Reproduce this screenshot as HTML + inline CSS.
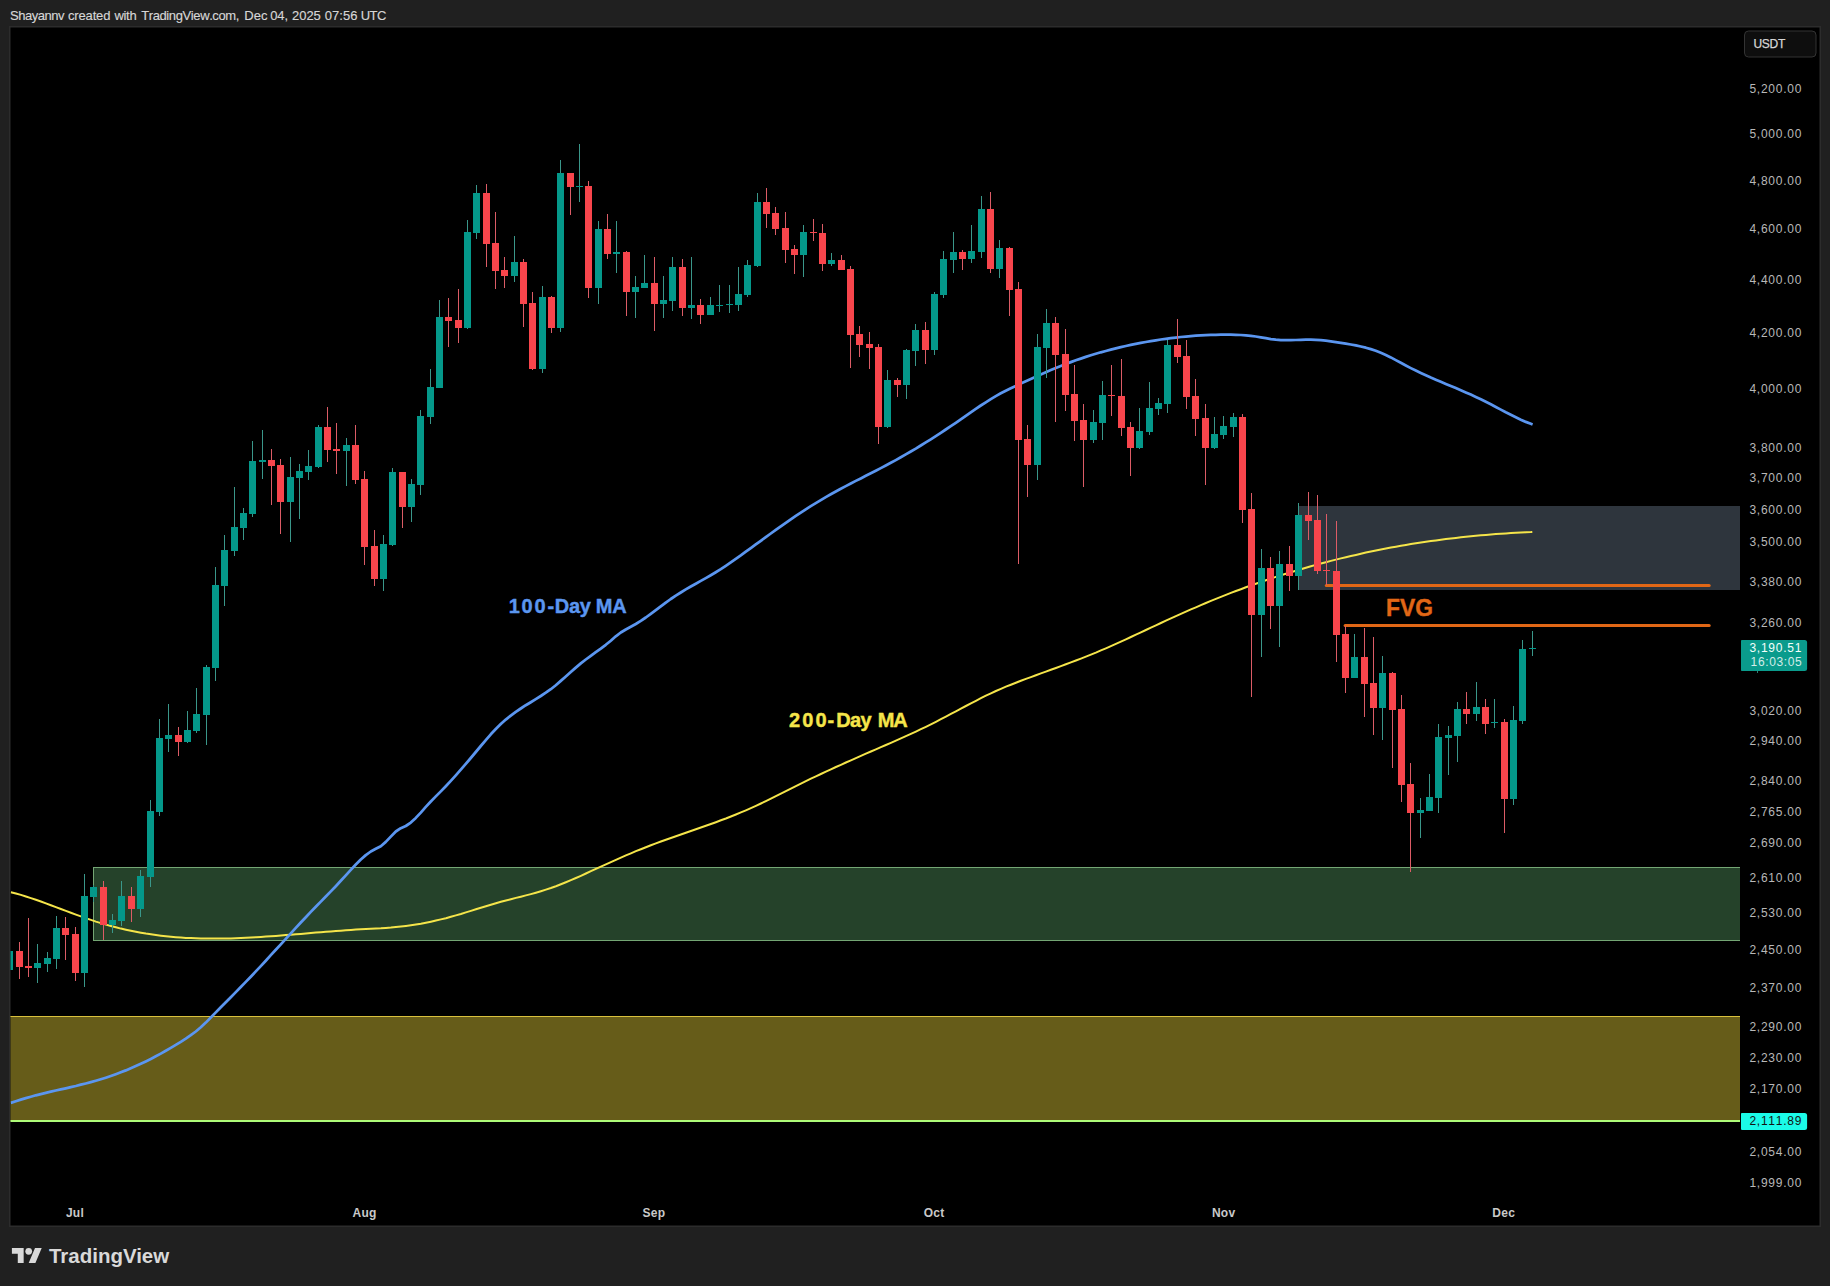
<!DOCTYPE html>
<html lang="en"><head><meta charset="utf-8"><title>TradingView chart</title>
<style>
html,body{margin:0;padding:0;background:#202020;}
body{width:1830px;height:1286px;overflow:hidden;font-family:"Liberation Sans", Arial, Helvetica, sans-serif;}
svg{display:block}
text{font-family:"Liberation Sans", Arial, Helvetica, sans-serif;font-kerning:none}
.ax{font-size:12px;fill:#b8b8b8;letter-spacing:0.75px}
.tm{font-size:12px;font-weight:700;fill:#c9c9c9;text-anchor:middle;letter-spacing:0.3px}
</style></head><body>
<svg width="1830" height="1286" viewBox="0 0 1830 1286">
<rect x="0" y="0" width="1830" height="1286" fill="#202020"/>
<text y="20" font-size="13" fill="#d6d6d6" stroke="#d6d6d6" stroke-width="0.15" xml:space="preserve"><tspan x="10" letter-spacing="-0.47">Shayannv </tspan><tspan x="68.0" letter-spacing="-0.157">created </tspan><tspan x="114.5" letter-spacing="-0.33">with </tspan><tspan x="141.2" letter-spacing="-0.39">TradingView.com, </tspan><tspan x="244.2" letter-spacing="0.1">Dec </tspan><tspan x="270.25" letter-spacing="-0.157">04, </tspan><tspan x="292.0" letter-spacing="-0.03">2025 </tspan><tspan x="324.8" letter-spacing="0.04">07:56 </tspan><tspan x="360.8" letter-spacing="-0.59">UTC</tspan></text>
<rect x="9" y="26" width="1812" height="1201" fill="#2c2c2c"/>
<rect x="10.5" y="27.5" width="1809" height="1198" fill="#000"/>
<defs><clipPath id="cp"><rect x="10.5" y="27.5" width="1729.5" height="1198"/></clipPath></defs>
<g clip-path="url(#cp)">

<g shape-rendering="crispEdges">
<rect x="1298" y="506" width="442" height="84" fill="#2e353d"/>
<rect x="93" y="867" width="1647" height="74" fill="#25422a"/>
<rect x="93.5" y="867.5" width="1650" height="73" fill="none" stroke="#74a674" stroke-width="1"/>
<rect x="10" y="1016" width="1730" height="105" fill="#665c19"/>
<rect x="10" y="1016" width="1730" height="1" fill="#d9c13c"/>
<rect x="10" y="1120" width="1730" height="2" fill="#aefb78"/>
</g>
<path d="M10.9,892.2 L15.9,893.5 L20.9,894.9 L25.9,896.5 L30.9,898.1 L35.9,899.8 L40.9,901.5 L45.9,903.4 L50.9,905.2 L55.9,907.1 L60.9,909.0 L65.9,910.9 L70.9,912.7 L75.9,914.6 L80.9,916.4 L85.9,918.2 L90.9,919.9 L95.9,921.6 L100.9,923.1 L105.9,924.6 L110.9,926.0 L115.9,927.3 L120.9,928.6 L125.9,929.7 L130.9,930.8 L135.9,931.8 L140.9,932.7 L145.9,933.6 L150.9,934.3 L155.9,935.0 L160.9,935.7 L165.9,936.3 L170.9,936.8 L175.9,937.2 L180.9,937.6 L185.9,937.9 L190.9,938.1 L195.9,938.3 L200.9,938.5 L205.9,938.6 L210.9,938.6 L215.9,938.6 L220.9,938.6 L225.9,938.5 L230.9,938.4 L235.9,938.2 L240.9,938.0 L245.9,937.8 L250.9,937.5 L255.9,937.2 L260.9,936.9 L265.9,936.6 L270.9,936.3 L275.9,935.9 L280.9,935.5 L285.9,935.1 L290.9,934.7 L295.9,934.3 L300.9,933.9 L305.9,933.5 L310.9,933.0 L315.9,932.6 L320.9,932.2 L325.9,931.8 L330.9,931.4 L335.9,931.0 L340.9,930.7 L345.9,930.3 L350.9,930.0 L355.9,929.6 L360.9,929.3 L365.9,929.1 L370.9,928.8 L375.9,928.5 L380.9,928.3 L385.9,927.9 L390.9,927.6 L395.9,927.1 L400.9,926.6 L405.9,926.0 L410.9,925.3 L415.9,924.5 L420.9,923.7 L425.9,922.7 L430.9,921.7 L435.9,920.6 L440.9,919.4 L445.9,918.2 L450.9,916.8 L455.9,915.4 L460.9,914.0 L465.9,912.4 L470.9,910.9 L475.9,909.3 L480.9,907.8 L485.9,906.2 L490.9,904.7 L495.9,903.2 L500.9,901.8 L505.9,900.5 L510.9,899.2 L515.9,897.9 L520.9,896.7 L525.9,895.4 L530.9,894.1 L535.9,892.7 L540.9,891.2 L545.9,889.6 L550.9,888.0 L555.9,886.2 L560.9,884.2 L565.9,882.2 L570.9,880.1 L575.9,878.0 L580.9,875.8 L585.9,873.5 L590.9,871.2 L595.9,868.9 L600.9,866.6 L605.9,864.3 L610.9,862.1 L615.9,859.8 L620.9,857.6 L625.9,855.4 L630.9,853.3 L635.9,851.2 L640.9,849.2 L645.9,847.2 L650.9,845.2 L655.9,843.4 L660.9,841.5 L665.9,839.7 L670.9,838.0 L675.9,836.2 L680.9,834.5 L685.9,832.7 L690.9,831.0 L695.9,829.3 L700.9,827.5 L705.9,825.8 L710.9,824.0 L715.9,822.2 L720.9,820.3 L725.9,818.5 L730.9,816.5 L735.9,814.5 L740.9,812.4 L745.9,810.3 L750.9,808.1 L755.9,805.8 L760.9,803.5 L765.9,801.1 L770.9,798.6 L775.9,796.1 L780.9,793.6 L785.9,791.1 L790.9,788.6 L795.9,786.1 L800.9,783.6 L805.9,781.2 L810.9,778.7 L815.9,776.4 L820.9,774.0 L825.9,771.7 L830.9,769.3 L835.9,767.0 L840.9,764.8 L845.9,762.5 L850.9,760.3 L855.9,758.1 L860.9,755.9 L865.9,753.7 L870.9,751.5 L875.9,749.4 L880.9,747.2 L885.9,745.0 L890.9,742.8 L895.9,740.6 L900.9,738.4 L905.9,736.2 L910.9,733.9 L915.9,731.6 L920.9,729.2 L925.9,726.8 L930.9,724.3 L935.9,721.8 L940.9,719.2 L945.9,716.6 L950.9,713.9 L955.9,711.3 L960.9,708.6 L965.9,706.0 L970.9,703.3 L975.9,700.8 L980.9,698.2 L985.9,695.7 L990.9,693.4 L995.9,691.0 L1000.9,688.8 L1005.9,686.7 L1010.9,684.7 L1015.9,682.7 L1020.9,680.8 L1025.9,678.9 L1030.9,677.1 L1035.9,675.2 L1040.9,673.4 L1045.9,671.6 L1050.9,669.8 L1055.9,668.0 L1060.9,666.1 L1065.9,664.3 L1070.9,662.4 L1075.9,660.5 L1080.9,658.6 L1085.9,656.6 L1090.9,654.6 L1095.9,652.6 L1100.9,650.4 L1105.9,648.3 L1110.9,646.1 L1115.9,643.9 L1120.9,641.6 L1125.9,639.3 L1130.9,637.0 L1135.9,634.7 L1140.9,632.3 L1145.9,630.0 L1150.9,627.6 L1155.9,625.3 L1160.9,623.0 L1165.9,620.7 L1170.9,618.4 L1175.9,616.1 L1180.9,613.9 L1185.9,611.6 L1190.9,609.4 L1195.9,607.3 L1200.9,605.1 L1205.9,603.0 L1210.9,600.9 L1215.9,598.9 L1220.9,596.9 L1225.9,594.9 L1230.9,592.9 L1235.9,591.0 L1240.9,589.2 L1245.9,587.3 L1250.9,585.5 L1255.9,583.7 L1260.9,582.0 L1265.9,580.3 L1270.9,578.6 L1275.9,576.9 L1280.9,575.3 L1285.9,573.7 L1290.9,572.2 L1295.9,570.7 L1300.9,569.2 L1305.9,567.7 L1310.9,566.3 L1315.9,564.9 L1320.9,563.5 L1325.9,562.2 L1330.9,560.9 L1335.9,559.6 L1340.9,558.4 L1345.9,557.2 L1350.9,556.0 L1355.9,554.9 L1360.9,553.7 L1365.9,552.6 L1370.9,551.6 L1375.9,550.5 L1380.9,549.5 L1385.9,548.6 L1390.9,547.6 L1395.9,546.7 L1400.9,545.8 L1405.9,545.0 L1410.9,544.1 L1415.9,543.3 L1420.9,542.5 L1425.9,541.8 L1430.9,541.1 L1435.9,540.4 L1440.9,539.7 L1445.9,539.1 L1450.9,538.4 L1455.9,537.9 L1460.9,537.3 L1465.9,536.8 L1470.9,536.2 L1475.9,535.8 L1480.9,535.3 L1485.9,534.9 L1490.9,534.5 L1495.9,534.1 L1500.9,533.7 L1505.9,533.4 L1510.9,533.1 L1515.9,532.8 L1520.9,532.5 L1525.9,532.3 L1530.9,532.1 L1532.3,532.0" fill="none" stroke="#f5e54a" stroke-width="2" stroke-linejoin="round" stroke-linecap="butt"/>
<path d="M10.8,1102.9 L15.8,1101.2 L20.8,1099.6 L25.8,1098.1 L30.8,1096.7 L35.8,1095.3 L40.8,1094.1 L45.8,1092.9 L50.8,1091.7 L55.8,1090.5 L60.8,1089.4 L65.8,1088.3 L70.8,1087.1 L75.8,1086.0 L80.8,1084.7 L85.8,1083.5 L90.8,1082.2 L95.8,1080.8 L100.8,1079.3 L105.8,1077.7 L110.8,1076.0 L115.8,1074.2 L120.8,1072.3 L125.8,1070.4 L130.8,1068.3 L135.8,1066.1 L140.8,1063.8 L145.8,1061.4 L150.8,1058.9 L155.8,1056.3 L160.8,1053.6 L165.8,1050.8 L170.8,1047.9 L175.8,1044.9 L180.8,1041.8 L185.8,1038.6 L190.8,1035.2 L195.8,1031.5 L200.8,1027.3 L205.8,1022.6 L210.8,1017.5 L215.8,1012.4 L220.8,1007.3 L225.8,1002.3 L230.8,997.2 L235.8,992.1 L240.8,987.0 L245.8,981.9 L250.8,976.7 L255.8,971.4 L260.8,966.1 L265.8,960.7 L270.8,955.2 L275.8,949.8 L280.8,944.3 L285.8,938.8 L290.8,933.4 L295.8,927.9 L300.8,922.5 L305.8,917.2 L310.8,911.9 L315.8,906.7 L320.8,901.6 L325.8,896.5 L330.8,891.4 L335.8,886.2 L340.8,880.8 L345.8,875.3 L350.8,869.8 L355.8,864.5 L360.8,859.5 L365.8,855.1 L370.8,851.5 L375.8,848.8 L380.8,846.2 L385.8,841.9 L390.8,836.6 L395.8,831.5 L400.8,828.2 L405.8,826.0 L410.8,822.6 L415.8,817.9 L420.8,812.6 L425.8,806.9 L430.8,801.5 L435.8,796.4 L440.8,791.4 L445.8,786.2 L450.8,780.9 L455.8,775.4 L460.8,769.7 L465.8,763.9 L470.8,758.0 L475.8,752.0 L480.8,746.0 L485.8,740.1 L490.8,734.3 L495.8,729.0 L500.8,724.1 L505.8,719.6 L510.8,715.6 L515.8,711.9 L520.8,708.5 L525.8,705.2 L530.8,702.2 L535.8,699.1 L540.8,696.0 L545.8,692.7 L550.8,689.2 L555.8,685.2 L560.8,680.9 L565.8,676.5 L570.8,672.0 L575.8,667.6 L580.8,663.4 L585.8,659.5 L590.8,655.8 L595.8,652.2 L600.8,648.6 L605.8,644.8 L610.8,640.7 L615.8,636.3 L620.8,632.5 L625.8,629.5 L630.8,626.8 L635.8,624.0 L640.8,620.9 L645.8,617.5 L650.8,613.9 L655.8,610.2 L660.8,606.4 L665.8,602.6 L670.8,599.0 L675.8,595.6 L680.8,592.5 L685.8,589.4 L690.8,586.5 L695.8,583.7 L700.8,580.9 L705.8,578.1 L710.8,575.2 L715.8,572.2 L720.8,569.1 L725.8,565.8 L730.8,562.4 L735.8,558.9 L740.8,555.4 L745.8,551.7 L750.8,548.1 L755.8,544.4 L760.8,540.8 L765.8,537.1 L770.8,533.5 L775.8,529.9 L780.8,526.3 L785.8,522.8 L790.8,519.3 L795.8,515.9 L800.8,512.6 L805.8,509.3 L810.8,506.1 L815.8,503.1 L820.8,500.1 L825.8,497.1 L830.8,494.3 L835.8,491.5 L840.8,488.7 L845.8,486.1 L850.8,483.5 L855.8,480.9 L860.8,478.4 L865.8,475.8 L870.8,473.3 L875.8,470.7 L880.8,468.1 L885.8,465.5 L890.8,462.8 L895.8,460.1 L900.8,457.3 L905.8,454.4 L910.8,451.5 L915.8,448.6 L920.8,445.5 L925.8,442.4 L930.8,439.3 L935.8,436.1 L940.8,432.8 L945.8,429.5 L950.8,426.2 L955.8,422.8 L960.8,419.3 L965.8,415.8 L970.8,412.3 L975.8,408.9 L980.8,405.5 L985.8,402.3 L990.8,399.1 L995.8,396.1 L1000.8,393.3 L1005.8,390.7 L1010.8,388.3 L1015.8,385.9 L1020.8,383.6 L1025.8,381.3 L1030.8,379.0 L1035.8,376.7 L1040.8,374.5 L1045.8,372.2 L1050.8,370.1 L1055.8,368.0 L1060.8,366.0 L1065.8,364.0 L1070.8,362.1 L1075.8,360.3 L1080.8,358.6 L1085.8,356.9 L1090.8,355.3 L1095.8,353.8 L1100.8,352.3 L1105.8,351.0 L1110.8,349.6 L1115.8,348.4 L1120.8,347.1 L1125.8,346.0 L1130.8,344.9 L1135.8,343.9 L1140.8,342.9 L1145.8,342.0 L1150.8,341.1 L1155.8,340.3 L1160.8,339.5 L1165.8,338.8 L1170.8,338.2 L1175.8,337.6 L1180.8,337.0 L1185.8,336.6 L1190.8,336.1 L1195.8,335.7 L1200.8,335.4 L1205.8,335.2 L1210.8,334.9 L1215.8,334.8 L1220.8,334.7 L1225.8,334.6 L1230.8,334.7 L1235.8,334.8 L1240.8,335.0 L1245.8,335.3 L1250.8,335.8 L1255.8,336.5 L1260.8,337.3 L1265.8,338.2 L1270.8,339.1 L1275.8,339.7 L1280.8,340.1 L1285.8,340.2 L1290.8,340.1 L1295.8,340.0 L1300.8,339.8 L1305.8,339.7 L1310.8,339.7 L1315.8,339.9 L1320.8,340.2 L1325.8,340.7 L1330.8,341.3 L1335.8,342.1 L1340.8,342.8 L1345.8,343.7 L1350.8,344.5 L1355.8,345.4 L1360.8,346.5 L1365.8,347.7 L1370.8,349.1 L1375.8,350.7 L1380.8,352.7 L1385.8,354.9 L1390.8,357.4 L1395.8,360.1 L1400.8,362.8 L1405.8,365.5 L1410.8,368.1 L1415.8,370.6 L1420.8,373.0 L1425.8,375.3 L1430.8,377.6 L1435.8,379.7 L1440.8,381.8 L1445.8,383.9 L1450.8,386.0 L1455.8,388.1 L1460.8,390.2 L1465.8,392.4 L1470.8,394.6 L1475.8,396.9 L1480.8,399.2 L1485.8,401.7 L1490.8,404.3 L1495.8,407.0 L1500.8,409.6 L1505.8,412.3 L1510.8,414.8 L1515.8,417.3 L1520.8,419.7 L1525.8,421.9 L1530.8,423.8 L1532.6,424.5" fill="none" stroke="#5b96f0" stroke-width="2.75" stroke-linejoin="round" stroke-linecap="butt"/>
<g stroke="#e16716" stroke-width="3" stroke-linecap="round"><line x1="1326.3" y1="585.5" x2="1709.2" y2="585.5"/><line x1="1345.1" y1="625.5" x2="1709.2" y2="625.5"/></g>
<g shape-rendering="crispEdges">
<rect x="9" y="944" width="1" height="34" fill="#3a978a"/>
<rect x="6" y="951" width="7" height="19" fill="#04988a"/>
<rect x="19" y="942" width="1" height="37" fill="#dc5c66"/>
<rect x="16" y="951" width="7" height="16" fill="#f8454c"/>
<rect x="28" y="918" width="1" height="59" fill="#dc5c66"/>
<rect x="25" y="966" width="7" height="2" fill="#f8454c"/>
<rect x="37" y="944" width="1" height="39" fill="#3a978a"/>
<rect x="34" y="963" width="7" height="5" fill="#04988a"/>
<rect x="47" y="952" width="1" height="20" fill="#3a978a"/>
<rect x="44" y="958" width="7" height="6" fill="#04988a"/>
<rect x="56" y="916" width="1" height="53" fill="#3a978a"/>
<rect x="53" y="928" width="7" height="31" fill="#04988a"/>
<rect x="65" y="917" width="1" height="43" fill="#dc5c66"/>
<rect x="62" y="928" width="7" height="7" fill="#f8454c"/>
<rect x="75" y="927" width="1" height="54" fill="#dc5c66"/>
<rect x="72" y="934" width="7" height="39" fill="#f8454c"/>
<rect x="84" y="874" width="1" height="113" fill="#3a978a"/>
<rect x="81" y="896" width="7" height="77" fill="#04988a"/>
<rect x="93" y="885" width="1" height="17" fill="#3a978a"/>
<rect x="90" y="887" width="7" height="10" fill="#04988a"/>
<rect x="103" y="881" width="1" height="59" fill="#dc5c66"/>
<rect x="100" y="887" width="7" height="38" fill="#f8454c"/>
<rect x="112" y="914" width="1" height="19" fill="#3a978a"/>
<rect x="109" y="920" width="7" height="5" fill="#04988a"/>
<rect x="121" y="881" width="1" height="45" fill="#3a978a"/>
<rect x="118" y="896" width="7" height="25" fill="#04988a"/>
<rect x="131" y="887" width="1" height="35" fill="#dc5c66"/>
<rect x="128" y="896" width="7" height="13" fill="#f8454c"/>
<rect x="140" y="870" width="1" height="47" fill="#3a978a"/>
<rect x="137" y="876" width="7" height="33" fill="#04988a"/>
<rect x="150" y="800" width="1" height="87" fill="#3a978a"/>
<rect x="147" y="811" width="7" height="66" fill="#04988a"/>
<rect x="159" y="719" width="1" height="97" fill="#3a978a"/>
<rect x="156" y="738" width="7" height="74" fill="#04988a"/>
<rect x="168" y="704" width="1" height="48" fill="#3a978a"/>
<rect x="165" y="735" width="7" height="4" fill="#04988a"/>
<rect x="178" y="727" width="1" height="29" fill="#dc5c66"/>
<rect x="175" y="735" width="7" height="7" fill="#f8454c"/>
<rect x="187" y="711" width="1" height="32" fill="#3a978a"/>
<rect x="184" y="730" width="7" height="12" fill="#04988a"/>
<rect x="196" y="688" width="1" height="45" fill="#3a978a"/>
<rect x="193" y="714" width="7" height="17" fill="#04988a"/>
<rect x="206" y="665" width="1" height="80" fill="#3a978a"/>
<rect x="203" y="667" width="7" height="48" fill="#04988a"/>
<rect x="215" y="567" width="1" height="114" fill="#3a978a"/>
<rect x="212" y="585" width="7" height="83" fill="#04988a"/>
<rect x="224" y="535" width="1" height="71" fill="#3a978a"/>
<rect x="221" y="550" width="7" height="36" fill="#04988a"/>
<rect x="234" y="487" width="1" height="69" fill="#3a978a"/>
<rect x="231" y="527" width="7" height="24" fill="#04988a"/>
<rect x="243" y="508" width="1" height="32" fill="#3a978a"/>
<rect x="240" y="513" width="7" height="15" fill="#04988a"/>
<rect x="252" y="441" width="1" height="76" fill="#3a978a"/>
<rect x="249" y="461" width="7" height="53" fill="#04988a"/>
<rect x="262" y="430" width="1" height="49" fill="#3a978a"/>
<rect x="259" y="460" width="7" height="2" fill="#04988a"/>
<rect x="271" y="449" width="1" height="56" fill="#dc5c66"/>
<rect x="268" y="460" width="7" height="6" fill="#f8454c"/>
<rect x="280" y="459" width="1" height="75" fill="#dc5c66"/>
<rect x="277" y="465" width="7" height="37" fill="#f8454c"/>
<rect x="290" y="457" width="1" height="85" fill="#3a978a"/>
<rect x="287" y="477" width="7" height="25" fill="#04988a"/>
<rect x="299" y="464" width="1" height="55" fill="#3a978a"/>
<rect x="296" y="471" width="7" height="7" fill="#04988a"/>
<rect x="308" y="450" width="1" height="30" fill="#3a978a"/>
<rect x="305" y="466" width="7" height="6" fill="#04988a"/>
<rect x="318" y="425" width="1" height="43" fill="#3a978a"/>
<rect x="315" y="427" width="7" height="40" fill="#04988a"/>
<rect x="327" y="407" width="1" height="55" fill="#dc5c66"/>
<rect x="324" y="427" width="7" height="23" fill="#f8454c"/>
<rect x="336" y="423" width="1" height="51" fill="#dc5c66"/>
<rect x="333" y="449" width="7" height="2" fill="#f8454c"/>
<rect x="346" y="438" width="1" height="48" fill="#3a978a"/>
<rect x="343" y="445" width="7" height="6" fill="#04988a"/>
<rect x="355" y="425" width="1" height="59" fill="#dc5c66"/>
<rect x="352" y="445" width="7" height="35" fill="#f8454c"/>
<rect x="364" y="471" width="1" height="94" fill="#dc5c66"/>
<rect x="361" y="479" width="7" height="68" fill="#f8454c"/>
<rect x="374" y="530" width="1" height="56" fill="#dc5c66"/>
<rect x="371" y="546" width="7" height="33" fill="#f8454c"/>
<rect x="383" y="535" width="1" height="56" fill="#3a978a"/>
<rect x="380" y="544" width="7" height="35" fill="#04988a"/>
<rect x="392" y="468" width="1" height="78" fill="#3a978a"/>
<rect x="389" y="472" width="7" height="73" fill="#04988a"/>
<rect x="402" y="472" width="1" height="56" fill="#dc5c66"/>
<rect x="399" y="472" width="7" height="35" fill="#f8454c"/>
<rect x="411" y="479" width="1" height="43" fill="#3a978a"/>
<rect x="408" y="484" width="7" height="23" fill="#04988a"/>
<rect x="420" y="410" width="1" height="85" fill="#3a978a"/>
<rect x="417" y="416" width="7" height="69" fill="#04988a"/>
<rect x="430" y="369" width="1" height="55" fill="#3a978a"/>
<rect x="427" y="387" width="7" height="30" fill="#04988a"/>
<rect x="439" y="300" width="1" height="88" fill="#3a978a"/>
<rect x="436" y="317" width="7" height="71" fill="#04988a"/>
<rect x="448" y="298" width="1" height="49" fill="#dc5c66"/>
<rect x="445" y="317" width="7" height="4" fill="#f8454c"/>
<rect x="458" y="289" width="1" height="54" fill="#dc5c66"/>
<rect x="455" y="320" width="7" height="8" fill="#f8454c"/>
<rect x="467" y="220" width="1" height="109" fill="#3a978a"/>
<rect x="464" y="232" width="7" height="96" fill="#04988a"/>
<rect x="476" y="185" width="1" height="54" fill="#3a978a"/>
<rect x="473" y="193" width="7" height="40" fill="#04988a"/>
<rect x="486" y="184" width="1" height="83" fill="#dc5c66"/>
<rect x="483" y="193" width="7" height="51" fill="#f8454c"/>
<rect x="495" y="212" width="1" height="77" fill="#dc5c66"/>
<rect x="492" y="243" width="7" height="28" fill="#f8454c"/>
<rect x="504" y="257" width="1" height="31" fill="#dc5c66"/>
<rect x="501" y="270" width="7" height="6" fill="#f8454c"/>
<rect x="514" y="236" width="1" height="46" fill="#3a978a"/>
<rect x="511" y="262" width="7" height="14" fill="#04988a"/>
<rect x="523" y="259" width="1" height="68" fill="#dc5c66"/>
<rect x="520" y="262" width="7" height="42" fill="#f8454c"/>
<rect x="532" y="292" width="1" height="78" fill="#dc5c66"/>
<rect x="529" y="303" width="7" height="66" fill="#f8454c"/>
<rect x="542" y="286" width="1" height="87" fill="#3a978a"/>
<rect x="539" y="297" width="7" height="72" fill="#04988a"/>
<rect x="551" y="296" width="1" height="37" fill="#dc5c66"/>
<rect x="548" y="297" width="7" height="31" fill="#f8454c"/>
<rect x="560" y="160" width="1" height="172" fill="#3a978a"/>
<rect x="557" y="173" width="7" height="155" fill="#04988a"/>
<rect x="570" y="173" width="1" height="42" fill="#dc5c66"/>
<rect x="567" y="173" width="7" height="14" fill="#f8454c"/>
<rect x="579" y="144" width="1" height="58" fill="#3a978a"/>
<rect x="576" y="186" width="7" height="1" fill="#04988a"/>
<rect x="588" y="181" width="1" height="117" fill="#dc5c66"/>
<rect x="585" y="186" width="7" height="102" fill="#f8454c"/>
<rect x="598" y="221" width="1" height="83" fill="#3a978a"/>
<rect x="595" y="229" width="7" height="59" fill="#04988a"/>
<rect x="607" y="214" width="1" height="45" fill="#dc5c66"/>
<rect x="604" y="229" width="7" height="25" fill="#f8454c"/>
<rect x="616" y="221" width="1" height="52" fill="#3a978a"/>
<rect x="613" y="252" width="7" height="2" fill="#04988a"/>
<rect x="626" y="251" width="1" height="65" fill="#dc5c66"/>
<rect x="623" y="252" width="7" height="40" fill="#f8454c"/>
<rect x="635" y="276" width="1" height="42" fill="#3a978a"/>
<rect x="632" y="287" width="7" height="5" fill="#04988a"/>
<rect x="644" y="255" width="1" height="33" fill="#3a978a"/>
<rect x="641" y="283" width="7" height="5" fill="#04988a"/>
<rect x="654" y="257" width="1" height="74" fill="#dc5c66"/>
<rect x="651" y="283" width="7" height="21" fill="#f8454c"/>
<rect x="663" y="276" width="1" height="42" fill="#3a978a"/>
<rect x="660" y="300" width="7" height="4" fill="#04988a"/>
<rect x="672" y="257" width="1" height="54" fill="#3a978a"/>
<rect x="669" y="267" width="7" height="34" fill="#04988a"/>
<rect x="682" y="259" width="1" height="57" fill="#dc5c66"/>
<rect x="679" y="267" width="7" height="41" fill="#f8454c"/>
<rect x="691" y="257" width="1" height="62" fill="#3a978a"/>
<rect x="688" y="305" width="7" height="3" fill="#04988a"/>
<rect x="700" y="299" width="1" height="25" fill="#dc5c66"/>
<rect x="697" y="305" width="7" height="10" fill="#f8454c"/>
<rect x="710" y="297" width="1" height="18" fill="#3a978a"/>
<rect x="707" y="305" width="7" height="10" fill="#04988a"/>
<rect x="719" y="285" width="1" height="27" fill="#3a978a"/>
<rect x="716" y="305" width="7" height="1" fill="#04988a"/>
<rect x="729" y="285" width="1" height="28" fill="#3a978a"/>
<rect x="726" y="304" width="7" height="1" fill="#04988a"/>
<rect x="738" y="267" width="1" height="44" fill="#3a978a"/>
<rect x="735" y="294" width="7" height="11" fill="#04988a"/>
<rect x="747" y="260" width="1" height="37" fill="#3a978a"/>
<rect x="744" y="265" width="7" height="30" fill="#04988a"/>
<rect x="757" y="193" width="1" height="74" fill="#3a978a"/>
<rect x="754" y="202" width="7" height="64" fill="#04988a"/>
<rect x="766" y="188" width="1" height="40" fill="#dc5c66"/>
<rect x="763" y="202" width="7" height="12" fill="#f8454c"/>
<rect x="775" y="207" width="1" height="28" fill="#dc5c66"/>
<rect x="772" y="213" width="7" height="16" fill="#f8454c"/>
<rect x="785" y="212" width="1" height="51" fill="#dc5c66"/>
<rect x="782" y="228" width="7" height="22" fill="#f8454c"/>
<rect x="794" y="245" width="1" height="29" fill="#dc5c66"/>
<rect x="791" y="249" width="7" height="6" fill="#f8454c"/>
<rect x="803" y="225" width="1" height="52" fill="#3a978a"/>
<rect x="800" y="232" width="7" height="23" fill="#04988a"/>
<rect x="813" y="219" width="1" height="22" fill="#dc5c66"/>
<rect x="810" y="232" width="7" height="1" fill="#f8454c"/>
<rect x="822" y="224" width="1" height="47" fill="#dc5c66"/>
<rect x="819" y="233" width="7" height="31" fill="#f8454c"/>
<rect x="831" y="253" width="1" height="13" fill="#3a978a"/>
<rect x="828" y="260" width="7" height="4" fill="#04988a"/>
<rect x="841" y="255" width="1" height="15" fill="#dc5c66"/>
<rect x="838" y="260" width="7" height="10" fill="#f8454c"/>
<rect x="850" y="266" width="1" height="102" fill="#dc5c66"/>
<rect x="847" y="269" width="7" height="66" fill="#f8454c"/>
<rect x="859" y="326" width="1" height="31" fill="#dc5c66"/>
<rect x="856" y="334" width="7" height="11" fill="#f8454c"/>
<rect x="869" y="332" width="1" height="37" fill="#dc5c66"/>
<rect x="866" y="344" width="7" height="4" fill="#f8454c"/>
<rect x="878" y="344" width="1" height="100" fill="#dc5c66"/>
<rect x="875" y="347" width="7" height="80" fill="#f8454c"/>
<rect x="887" y="370" width="1" height="58" fill="#3a978a"/>
<rect x="884" y="380" width="7" height="47" fill="#04988a"/>
<rect x="897" y="378" width="1" height="19" fill="#dc5c66"/>
<rect x="894" y="380" width="7" height="5" fill="#f8454c"/>
<rect x="906" y="349" width="1" height="50" fill="#3a978a"/>
<rect x="903" y="350" width="7" height="35" fill="#04988a"/>
<rect x="915" y="324" width="1" height="42" fill="#3a978a"/>
<rect x="912" y="330" width="7" height="21" fill="#04988a"/>
<rect x="925" y="322" width="1" height="42" fill="#dc5c66"/>
<rect x="922" y="330" width="7" height="20" fill="#f8454c"/>
<rect x="934" y="292" width="1" height="63" fill="#3a978a"/>
<rect x="931" y="294" width="7" height="56" fill="#04988a"/>
<rect x="943" y="251" width="1" height="47" fill="#3a978a"/>
<rect x="940" y="259" width="7" height="36" fill="#04988a"/>
<rect x="953" y="232" width="1" height="41" fill="#3a978a"/>
<rect x="950" y="252" width="7" height="8" fill="#04988a"/>
<rect x="962" y="250" width="1" height="20" fill="#dc5c66"/>
<rect x="959" y="252" width="7" height="7" fill="#f8454c"/>
<rect x="971" y="225" width="1" height="38" fill="#3a978a"/>
<rect x="968" y="251" width="7" height="8" fill="#04988a"/>
<rect x="981" y="196" width="1" height="62" fill="#3a978a"/>
<rect x="978" y="209" width="7" height="43" fill="#04988a"/>
<rect x="990" y="192" width="1" height="81" fill="#dc5c66"/>
<rect x="987" y="209" width="7" height="60" fill="#f8454c"/>
<rect x="999" y="240" width="1" height="38" fill="#3a978a"/>
<rect x="996" y="248" width="7" height="21" fill="#04988a"/>
<rect x="1009" y="247" width="1" height="69" fill="#dc5c66"/>
<rect x="1006" y="248" width="7" height="42" fill="#f8454c"/>
<rect x="1018" y="282" width="1" height="282" fill="#dc5c66"/>
<rect x="1015" y="289" width="7" height="151" fill="#f8454c"/>
<rect x="1027" y="425" width="1" height="72" fill="#dc5c66"/>
<rect x="1024" y="439" width="7" height="26" fill="#f8454c"/>
<rect x="1037" y="334" width="1" height="146" fill="#3a978a"/>
<rect x="1034" y="347" width="7" height="118" fill="#04988a"/>
<rect x="1046" y="309" width="1" height="69" fill="#3a978a"/>
<rect x="1043" y="323" width="7" height="25" fill="#04988a"/>
<rect x="1055" y="317" width="1" height="105" fill="#dc5c66"/>
<rect x="1052" y="323" width="7" height="32" fill="#f8454c"/>
<rect x="1065" y="329" width="1" height="82" fill="#dc5c66"/>
<rect x="1062" y="354" width="7" height="41" fill="#f8454c"/>
<rect x="1074" y="365" width="1" height="76" fill="#dc5c66"/>
<rect x="1071" y="394" width="7" height="27" fill="#f8454c"/>
<rect x="1083" y="404" width="1" height="83" fill="#dc5c66"/>
<rect x="1080" y="420" width="7" height="20" fill="#f8454c"/>
<rect x="1093" y="410" width="1" height="33" fill="#3a978a"/>
<rect x="1090" y="422" width="7" height="18" fill="#04988a"/>
<rect x="1102" y="381" width="1" height="59" fill="#3a978a"/>
<rect x="1099" y="395" width="7" height="28" fill="#04988a"/>
<rect x="1111" y="365" width="1" height="51" fill="#dc5c66"/>
<rect x="1108" y="395" width="7" height="1" fill="#f8454c"/>
<rect x="1121" y="359" width="1" height="77" fill="#dc5c66"/>
<rect x="1118" y="396" width="7" height="32" fill="#f8454c"/>
<rect x="1130" y="422" width="1" height="54" fill="#dc5c66"/>
<rect x="1127" y="427" width="7" height="21" fill="#f8454c"/>
<rect x="1139" y="408" width="1" height="41" fill="#3a978a"/>
<rect x="1136" y="431" width="7" height="17" fill="#04988a"/>
<rect x="1149" y="382" width="1" height="53" fill="#3a978a"/>
<rect x="1146" y="408" width="7" height="24" fill="#04988a"/>
<rect x="1158" y="398" width="1" height="17" fill="#3a978a"/>
<rect x="1155" y="403" width="7" height="6" fill="#04988a"/>
<rect x="1167" y="340" width="1" height="73" fill="#3a978a"/>
<rect x="1164" y="345" width="7" height="59" fill="#04988a"/>
<rect x="1177" y="319" width="1" height="44" fill="#dc5c66"/>
<rect x="1174" y="345" width="7" height="12" fill="#f8454c"/>
<rect x="1186" y="340" width="1" height="69" fill="#dc5c66"/>
<rect x="1183" y="356" width="7" height="41" fill="#f8454c"/>
<rect x="1195" y="379" width="1" height="57" fill="#dc5c66"/>
<rect x="1192" y="396" width="7" height="23" fill="#f8454c"/>
<rect x="1205" y="404" width="1" height="81" fill="#dc5c66"/>
<rect x="1202" y="418" width="7" height="30" fill="#f8454c"/>
<rect x="1214" y="417" width="1" height="32" fill="#3a978a"/>
<rect x="1211" y="434" width="7" height="14" fill="#04988a"/>
<rect x="1223" y="416" width="1" height="23" fill="#3a978a"/>
<rect x="1220" y="426" width="7" height="9" fill="#04988a"/>
<rect x="1233" y="413" width="1" height="24" fill="#3a978a"/>
<rect x="1230" y="417" width="7" height="10" fill="#04988a"/>
<rect x="1242" y="414" width="1" height="109" fill="#dc5c66"/>
<rect x="1239" y="417" width="7" height="93" fill="#f8454c"/>
<rect x="1251" y="493" width="1" height="204" fill="#dc5c66"/>
<rect x="1248" y="509" width="7" height="106" fill="#f8454c"/>
<rect x="1261" y="549" width="1" height="108" fill="#3a978a"/>
<rect x="1258" y="568" width="7" height="47" fill="#04988a"/>
<rect x="1270" y="557" width="1" height="72" fill="#dc5c66"/>
<rect x="1267" y="568" width="7" height="38" fill="#f8454c"/>
<rect x="1279" y="551" width="1" height="96" fill="#3a978a"/>
<rect x="1276" y="564" width="7" height="42" fill="#04988a"/>
<rect x="1289" y="546" width="1" height="45" fill="#dc5c66"/>
<rect x="1286" y="564" width="7" height="12" fill="#f8454c"/>
<rect x="1298" y="503" width="1" height="87" fill="#3a978a"/>
<rect x="1295" y="515" width="7" height="61" fill="#04988a"/>
<rect x="1308" y="492" width="1" height="48" fill="#dc5c66"/>
<rect x="1305" y="515" width="7" height="6" fill="#f8454c"/>
<rect x="1317" y="495" width="1" height="79" fill="#dc5c66"/>
<rect x="1314" y="520" width="7" height="51" fill="#f8454c"/>
<rect x="1326" y="514" width="1" height="71" fill="#dc5c66"/>
<rect x="1323" y="570" width="7" height="1" fill="#f8454c"/>
<rect x="1336" y="521" width="1" height="141" fill="#dc5c66"/>
<rect x="1333" y="571" width="7" height="64" fill="#f8454c"/>
<rect x="1345" y="626" width="1" height="67" fill="#dc5c66"/>
<rect x="1342" y="634" width="7" height="44" fill="#f8454c"/>
<rect x="1354" y="634" width="1" height="44" fill="#3a978a"/>
<rect x="1351" y="657" width="7" height="21" fill="#04988a"/>
<rect x="1364" y="628" width="1" height="89" fill="#dc5c66"/>
<rect x="1361" y="657" width="7" height="27" fill="#f8454c"/>
<rect x="1373" y="637" width="1" height="98" fill="#dc5c66"/>
<rect x="1370" y="683" width="7" height="25" fill="#f8454c"/>
<rect x="1382" y="656" width="1" height="84" fill="#3a978a"/>
<rect x="1379" y="673" width="7" height="35" fill="#04988a"/>
<rect x="1392" y="672" width="1" height="96" fill="#dc5c66"/>
<rect x="1389" y="673" width="7" height="37" fill="#f8454c"/>
<rect x="1401" y="695" width="1" height="107" fill="#dc5c66"/>
<rect x="1398" y="709" width="7" height="76" fill="#f8454c"/>
<rect x="1410" y="763" width="1" height="109" fill="#dc5c66"/>
<rect x="1407" y="784" width="7" height="29" fill="#f8454c"/>
<rect x="1420" y="798" width="1" height="40" fill="#3a978a"/>
<rect x="1417" y="810" width="7" height="3" fill="#04988a"/>
<rect x="1429" y="774" width="1" height="37" fill="#3a978a"/>
<rect x="1426" y="797" width="7" height="14" fill="#04988a"/>
<rect x="1438" y="724" width="1" height="89" fill="#3a978a"/>
<rect x="1435" y="737" width="7" height="61" fill="#04988a"/>
<rect x="1448" y="726" width="1" height="49" fill="#3a978a"/>
<rect x="1445" y="735" width="7" height="3" fill="#04988a"/>
<rect x="1457" y="702" width="1" height="60" fill="#3a978a"/>
<rect x="1454" y="709" width="7" height="27" fill="#04988a"/>
<rect x="1466" y="692" width="1" height="32" fill="#dc5c66"/>
<rect x="1463" y="709" width="7" height="5" fill="#f8454c"/>
<rect x="1476" y="682" width="1" height="39" fill="#3a978a"/>
<rect x="1473" y="707" width="7" height="7" fill="#04988a"/>
<rect x="1485" y="699" width="1" height="35" fill="#dc5c66"/>
<rect x="1482" y="707" width="7" height="17" fill="#f8454c"/>
<rect x="1494" y="699" width="1" height="29" fill="#3a978a"/>
<rect x="1491" y="722" width="7" height="1" fill="#04988a"/>
<rect x="1504" y="719" width="1" height="114" fill="#dc5c66"/>
<rect x="1501" y="722" width="7" height="77" fill="#f8454c"/>
<rect x="1513" y="706" width="1" height="99" fill="#3a978a"/>
<rect x="1510" y="720" width="7" height="79" fill="#04988a"/>
<rect x="1522" y="640" width="1" height="84" fill="#3a978a"/>
<rect x="1519" y="649" width="7" height="72" fill="#04988a"/>
<rect x="1532" y="631" width="1" height="25" fill="#3a978a"/>
<rect x="1529" y="648" width="7" height="1" fill="#04988a"/>
</g>
<text transform="translate(1386.1,615.7) scale(0.97,1)" font-size="23.5" font-weight="700" fill="#e16716" stroke="#e16716" stroke-width="0.4">FVG</text>
<text y="612.9" font-size="20" font-weight="700" fill="#5b96f0" stroke="#5b96f0" stroke-width="0.4" xml:space="preserve"><tspan x="508.68" letter-spacing="1.8">100</tspan><tspan x="547.5" letter-spacing="0">-</tspan><tspan x="554.72" letter-spacing="-0.25">Day </tspan><tspan x="595.77" letter-spacing="-0.2">MA</tspan></text>
<text y="726.8" font-size="20" font-weight="700" fill="#f5e54a" stroke="#f5e54a" stroke-width="0.4" xml:space="preserve"><tspan x="789.0" letter-spacing="2.08">200</tspan><tspan x="827.45" letter-spacing="0">-</tspan><tspan x="836.3" letter-spacing="-0.74">Day </tspan><tspan x="877.8" letter-spacing="-1.3">MA</tspan></text>
</g>
<text class="ax" x="1749.4" y="92.9">5,200.00</text>
<text class="ax" x="1749.4" y="137.8">5,000.00</text>
<text class="ax" x="1749.4" y="184.5">4,800.00</text>
<text class="ax" x="1749.4" y="233.2">4,600.00</text>
<text class="ax" x="1749.4" y="284.1">4,400.00</text>
<text class="ax" x="1749.4" y="337.3">4,200.00</text>
<text class="ax" x="1749.4" y="393.1">4,000.00</text>
<text class="ax" x="1749.4" y="451.8">3,800.00</text>
<text class="ax" x="1749.4" y="482.3">3,700.00</text>
<text class="ax" x="1749.4" y="513.7">3,600.00</text>
<text class="ax" x="1749.4" y="545.9">3,500.00</text>
<text class="ax" x="1749.4" y="585.8">3,380.00</text>
<text class="ax" x="1749.4" y="627.2">3,260.00</text>
<text class="ax" x="1749.4" y="714.7">3,020.00</text>
<text class="ax" x="1749.4" y="745.4">2,940.00</text>
<text class="ax" x="1749.4" y="785.0">2,840.00</text>
<text class="ax" x="1749.4" y="815.7">2,765.00</text>
<text class="ax" x="1749.4" y="847.1">2,690.00</text>
<text class="ax" x="1749.4" y="881.7">2,610.00</text>
<text class="ax" x="1749.4" y="917.3">2,530.00</text>
<text class="ax" x="1749.4" y="954.1">2,450.00</text>
<text class="ax" x="1749.4" y="992.1">2,370.00</text>
<text class="ax" x="1749.4" y="1031.3">2,290.00</text>
<text class="ax" x="1749.4" y="1061.7">2,230.00</text>
<text class="ax" x="1749.4" y="1092.9">2,170.00</text>
<text class="ax" x="1749.4" y="1155.8">2,054.00</text>
<text class="ax" x="1749.4" y="1186.9">1,999.00</text>
<rect x="1744.5" y="31" width="71.5" height="26" rx="4" ry="4" fill="#0e0e0e" stroke="#333" stroke-width="1"/>
<text x="1753.4" y="48" font-size="12" fill="#d6d6d6" stroke="#d6d6d6" stroke-width="0.25" letter-spacing="-0.25">USDT</text>
<path d="M1741.8,640.1 H1804.6 Q1807.1,640.1 1807.1,642.6 V668.5 Q1807.1,671 1804.6,671 H1741.8 Q1741,671 1741,670.2 V640.9 Q1741,640.1 1741.8,640.1 Z" fill="#0a9b8c"/>
<text x="1749.4" y="652.1" font-size="12" fill="#f2fffb" letter-spacing="0.75">3,190.51</text>
<text x="1750.6" y="666" font-size="12" fill="#d3ece8" letter-spacing="0.62">16:03:05</text>
<path d="M1741.8,1113.1 H1804.6 Q1807.1,1113.1 1807.1,1115.6 V1127.4 Q1807.1,1129.9 1804.6,1129.9 H1741.8 Q1741,1129.9 1741,1129.1000000000001 V1113.8999999999999 Q1741,1113.1 1741.8,1113.1 Z" fill="#1bfbe8"/>
<text x="1749.4" y="1125.1" font-size="12" fill="#131313" letter-spacing="0.75">2,111.89</text>
<rect x="1757" y="671" width="1" height="2" fill="#2f7f77"/>
<text class="tm" x="75" y="1217.4">Jul</text>
<text class="tm" x="364.6" y="1217.4">Aug</text>
<text class="tm" x="654" y="1217.4">Sep</text>
<text class="tm" x="934.2" y="1217.4">Oct</text>
<text class="tm" x="1223.7" y="1217.4">Nov</text>
<text class="tm" x="1503.8" y="1217.4">Dec</text>
<g transform="translate(11.9,1244.6) scale(0.84)" fill="#d9d9d9"><path d="M14 22H7V11H0V4h14v18zM28 22h-8l7.5-18h8L28 22z"/><circle cx="20" cy="8" r="4"/></g>
<text x="49" y="1262.7" font-size="20.5" font-weight="700" fill="#d9d9d9" style="font-kerning:normal" letter-spacing="-0.02">TradingView</text>
</svg></body></html>
